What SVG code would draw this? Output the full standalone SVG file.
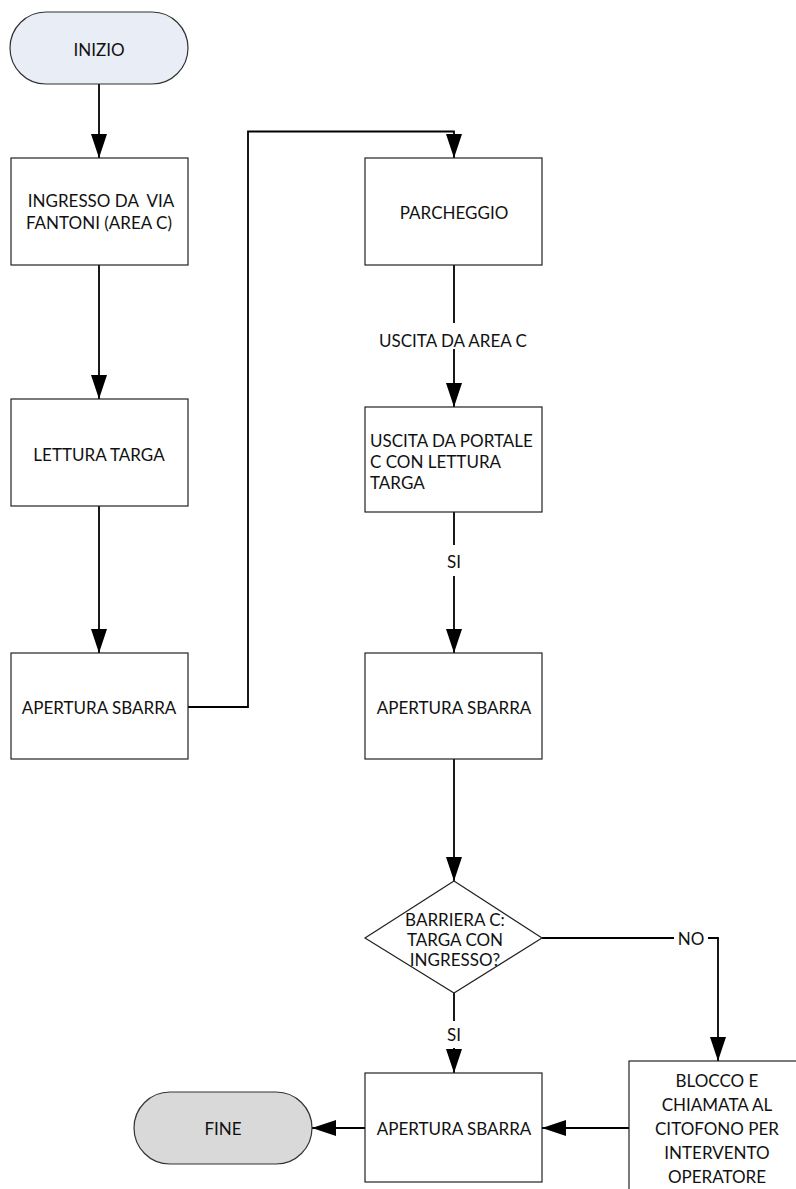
<svg xmlns="http://www.w3.org/2000/svg" width="796" height="1189" viewBox="0 0 796 1189">
<defs>
<marker id="ah" markerUnits="userSpaceOnUse" markerWidth="24" markerHeight="16" refX="24" refY="8" orient="auto">
<path d="M0,0 L24,8 L0,16 z" fill="#000"/>
</marker>
<style>
.box{fill:#fff;stroke:#222;stroke-width:1.2}
.t{font-family:Lato,"Liberation Sans",sans-serif;font-size:17px;fill:#111;text-anchor:middle;dominant-baseline:central}
.tl{font-family:Lato,"Liberation Sans",sans-serif;font-size:17px;fill:#111;dominant-baseline:central}
.c{fill:none;stroke:#000;stroke-width:1.8}
</style>
</defs>
<rect width="796" height="1189" fill="#fff"/>
<g id="connectors">
<path class="c" d="M99,84 V158" marker-end="url(#ah)"/>
<path class="c" d="M99,265 V399" marker-end="url(#ah)"/>
<path class="c" d="M99,506 V653" marker-end="url(#ah)"/>
<path class="c" d="M188,707 H248 V131.5 H454 V158" marker-end="url(#ah)"/>
<path class="c" d="M454,265 V323 M454,349 V407" marker-end="url(#ah)"/>
<text class="t" x="453" y="340">USCITA DA AREA C</text>
<path class="c" d="M454,512 V545 M454,576 V653" marker-end="url(#ah)"/>
<text class="t" x="454" y="561">SI</text>
<path class="c" d="M454,759 V881" marker-end="url(#ah)"/>
<path class="c" d="M542,938 H674 M708,938 H718 V1061" marker-end="url(#ah)"/>
<text class="t" x="691" y="938">NO</text>
<path class="c" d="M454,993 V1021 M454,1048 V1073" marker-end="url(#ah)"/>
<text class="t" x="454" y="1034">SI</text>
<path class="c" d="M629,1128 H542" marker-end="url(#ah)"/>
<path class="c" d="M365,1128 H312" marker-end="url(#ah)"/>
</g>
<g id="inizio">
<rect x="10" y="12" width="178" height="72" rx="36" ry="36" fill="#e8edf6" stroke="#333" stroke-width="1.2"/>
<text class="t" x="99" y="49">INIZIO</text>
</g>
<g id="ingresso">
<rect class="box" x="11" y="158" width="177" height="107"/>
<text class="t" x="101" y="200" xml:space="preserve" style="white-space:pre">INGRESSO DA  VIA</text>
<text class="t" x="99" y="222">FANTONI (AREA C)</text>
</g>
<g id="lettura">
<rect class="box" x="11" y="399" width="177" height="107"/>
<text class="t" x="99" y="454">LETTURA TARGA</text>
</g>
<g id="apertura1">
<rect class="box" x="11" y="653" width="177" height="106"/>
<text class="t" x="99" y="707">APERTURA SBARRA</text>
</g>
<g id="parcheggio">
<rect class="box" x="365" y="158" width="177" height="107"/>
<text class="t" x="454" y="212">PARCHEGGIO</text>
</g>
<g id="uscita">
<rect class="box" x="365" y="407" width="177" height="105"/>
<text class="tl" x="370" y="440">USCITA DA PORTALE</text>
<text class="tl" x="370" y="461">C CON LETTURA</text>
<text class="tl" x="370" y="482">TARGA</text>
</g>
<g id="apertura2">
<rect class="box" x="365" y="653" width="177" height="106"/>
<text class="t" x="454" y="707">APERTURA SBARRA</text>
</g>
<g id="barriera">
<polygon points="454,881 542,938 454,993 365,938" fill="#fff" stroke="#222" stroke-width="1.2"/>
<text class="t" x="455" y="919">BARRIERA C:</text>
<text class="t" x="455" y="939">TARGA CON</text>
<text class="t" x="455" y="959">INGRESSO?</text>
</g>
<g id="blocco">
<rect class="box" x="629" y="1061" width="176" height="140"/>
<text class="t" x="717" y="1080">BLOCCO E</text>
<text class="t" x="717" y="1104">CHIAMATA AL</text>
<text class="t" x="717" y="1128">CITOFONO PER</text>
<text class="t" x="717" y="1152">INTERVENTO</text>
<text class="t" x="717" y="1176">OPERATORE</text>
</g>
<g id="apertura3">
<rect class="box" x="365" y="1073" width="177" height="109"/>
<text class="t" x="454" y="1128">APERTURA SBARRA</text>
</g>
<g id="fine">
<rect x="134" y="1092" width="178" height="72" rx="36" ry="36" fill="#d9d9d9" stroke="#333" stroke-width="1.2"/>
<text class="t" x="223" y="1128">FINE</text>
</g>
</svg>
